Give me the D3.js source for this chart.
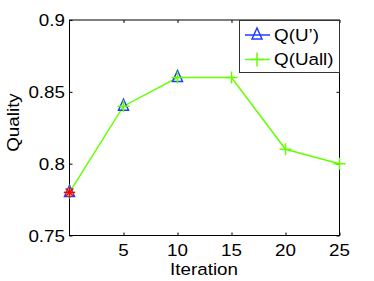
<!DOCTYPE html>
<html>
<head>
<meta charset="utf-8">
<script src="https://cdn.jsdelivr.net/npm/d3@7"></script>
<style>
  body { margin: 0; background: #fff; }
  text { font-family: "Liberation Sans", Arial, sans-serif; }
</style>
</head>
<body>
<div class="main"></div>
<script>
// data
let iterAll = [0, 5, 10, 15, 20, 25];
let qualityAll = [0.78, 0.84, 0.86, 0.86, 0.81, 0.80];
let iterU = [0, 5, 10];
let qualityU = [0.78, 0.84, 0.86];
let startPoint = [0, 0.78];
let xTicks = [5, 10, 15, 20, 25];
let yTicks = [0.75, 0.8, 0.85, 0.9];
let legendLabels = ["Q(U\u2019)", "Q(Uall)"];

let opts = { width: 374, height: 281, left: 69.5, right: 339.5, top: 20, bottom: 235.5, fs: 16.5, sx: 1.14 };
let green = "#66ff00", blue = "#1f3dff";

let svg = d3.select('.main').append('svg')
  .attr('width', opts.width)
  .attr('height', opts.height);

let x = d3.scaleLinear().domain([0, 25]).range([opts.left, opts.right]);
let y = d3.scaleLinear().domain([0.75, 0.9]).range([opts.bottom, opts.top]);

// stretched text helper (reference glyphs are wide)
let addText = (g, tx, ty, str, anchor, rot) => {
  return g.append('text')
    .attr('transform', `translate(${tx},${ty})` + (rot ? ` rotate(${rot})` : '') + ` scale(${opts.sx},1)`)
    .attr('text-anchor', anchor || 'start')
    .attr('font-size', opts.fs)
    .attr('fill', '#000')
    .text(str);
};

// axes box
svg.append('rect')
  .attr('x', opts.left).attr('y', opts.top)
  .attr('width', opts.right - opts.left).attr('height', opts.bottom - opts.top)
  .attr('fill', 'none').attr('stroke', '#000').attr('stroke-width', 1);

let fmt = d => d === 0.9 ? '0.9' : d === 0.8 ? '0.8' : d3.format('.2f')(d);

let yAxis = svg.append('g').attr('transform', `translate(${opts.left},0)`)
  .call(d3.axisLeft(y).tickValues(yTicks).tickSize(-3).tickFormat(''));
let yAxisR = svg.append('g').attr('transform', `translate(${opts.right},0)`)
  .call(d3.axisRight(y).tickValues(yTicks).tickSize(-3).tickFormat(''));
let xAxis = svg.append('g').attr('transform', `translate(0,${opts.bottom})`)
  .call(d3.axisBottom(x).tickValues(xTicks).tickSize(-3).tickFormat(''));
let xAxisT = svg.append('g').attr('transform', `translate(0,${opts.top})`)
  .call(d3.axisTop(x).tickValues(xTicks).tickSize(-3).tickFormat(''));
[yAxis, yAxisR, xAxis, xAxisT].forEach(g => {
  g.select('.domain').remove();
  g.selectAll('text').remove();
});

// tick labels through the scales
let labels = svg.append('g');
yTicks.forEach(t => addText(labels, opts.left - 4.5, y(t) + 6, fmt(t), 'end'));
xTicks.forEach(t => addText(labels, x(t), 256, String(t), 'middle'));

addText(svg, (opts.left + opts.right) / 2 - 0.5, 274.5, 'Iteration', 'middle');
addText(svg, 19, 122.5, 'Quality', 'middle', -90);

// green line with plus markers
let line = d3.line().x(d => x(d[0])).y(d => y(d[1]));
let allPts = iterAll.map((d, i) => [d, qualityAll[i]]);
let uPts = iterU.map((d, i) => [d, qualityU[i]]);

svg.append('path').datum(allPts).attr('d', line)
  .attr('fill', 'none').attr('stroke', green).attr('stroke-width', 1.5);

let plus = (g, cx, cy, s) => {
  g.append('path')
    .attr('d', `M${cx - s},${cy}H${cx + s}M${cx},${cy - s}V${cy + s}`)
    .attr('stroke', green).attr('stroke-width', 1.5);
};
let tri = (g, cx, cy) => {
  g.append('path')
    .attr('d', `M${cx},${cy - 7}L${cx + 5},${cy + 4}L${cx - 5},${cy + 4}Z`)
    .attr('fill', 'none').attr('stroke', blue).attr('stroke-width', 1.5);
};

let marks = svg.append('g');
uPts.forEach(d => tri(marks, x(d[0]), y(d[1])));
allPts.forEach(d => plus(marks, x(d[0]), y(d[1]), 6));

// red asterisk at start
let star = svg.append('g')
  .attr('transform', `translate(${x(startPoint[0])},${y(startPoint[1])})`);
[0, 45, 90, 135].forEach(a => {
  star.append('line')
    .attr('x1', -5.5).attr('x2', 5.5).attr('y1', 0).attr('y2', 0)
    .attr('transform', `rotate(${a})`)
    .attr('stroke', '#ff0000').attr('stroke-width', 1.5);
});

// legend
let leg = svg.append('g');
leg.append('rect')
  .attr('x', 239.5).attr('y', 20.5).attr('width', 100).attr('height', 52)
  .attr('fill', '#fff').attr('stroke', '#333').attr('stroke-width', 1);
[0, 1].forEach(i => {
  let ly = 35 + i * 24.5;
  let c = i === 0 ? blue : green;
  leg.append('line').attr('x1', 245).attr('x2', 270).attr('y1', ly).attr('y2', ly)
    .attr('stroke', c).attr('stroke-width', 1.5);
  if (i === 0) tri(leg, 257, ly); else plus(leg, 257, ly, 7);
  addText(leg, 274, ly + 5.5, legendLabels[i], 'start');
});
</script>
</body>
</html>
